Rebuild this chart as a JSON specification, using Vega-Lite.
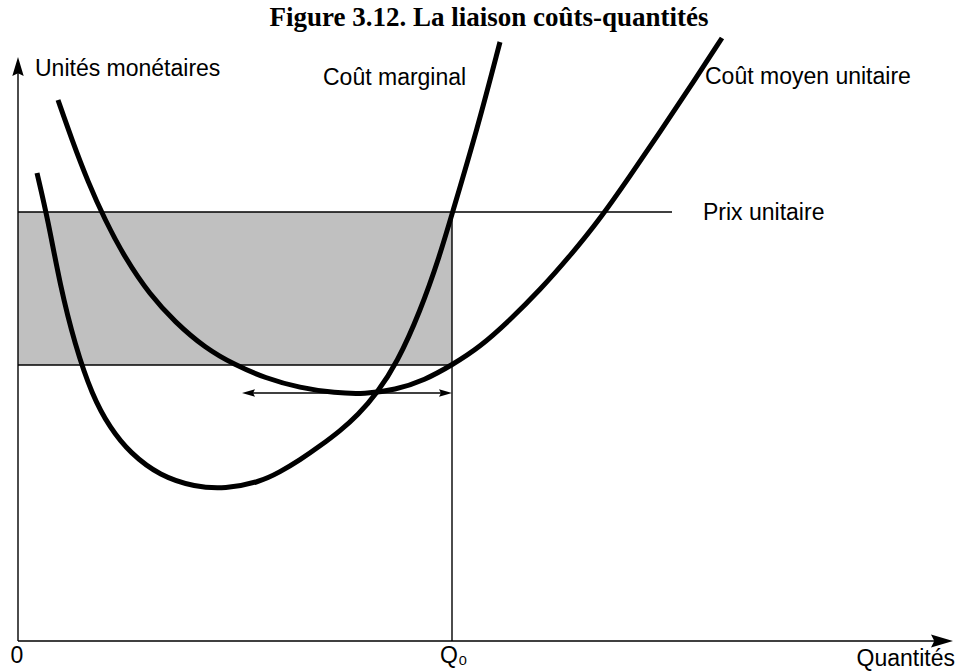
{
  "$schema": "https://vega.github.io/schema/vega-lite/v6.json",
  "width": 957,
  "height": 671,
  "padding": 0,
  "autosize": {"type": "none"},
  "background": "white",
  "config": {"view": {"stroke": null}},
  "datasets": {
    "mc": [
      {"q": 19, "c": 468}, {"q": 30, "c": 421}, {"q": 42, "c": 356}, {"q": 57, "c": 296},
      {"q": 74, "c": 246}, {"q": 92, "c": 213}, {"q": 112, "c": 188}, {"q": 142, "c": 165},
      {"q": 177, "c": 154}, {"q": 207, "c": 152}, {"q": 242, "c": 159}, {"q": 262, "c": 169},
      {"q": 282, "c": 181}, {"q": 302, "c": 195}, {"q": 322, "c": 210}, {"q": 340, "c": 226},
      {"q": 359, "c": 248}, {"q": 379, "c": 278}, {"q": 402, "c": 329}, {"q": 422, "c": 386},
      {"q": 434, "c": 427}, {"q": 459, "c": 511}, {"q": 482, "c": 599}
    ],
    "ac": [
      {"q": 40, "c": 541}, {"q": 54, "c": 501}, {"q": 70, "c": 459}, {"q": 87, "c": 421},
      {"q": 107, "c": 383}, {"q": 132, "c": 346}, {"q": 157, "c": 319}, {"q": 187, "c": 293},
      {"q": 217, "c": 276}, {"q": 247, "c": 263}, {"q": 282, "c": 253}, {"q": 317, "c": 248},
      {"q": 347, "c": 247}, {"q": 377, "c": 251}, {"q": 407, "c": 261}, {"q": 434, "c": 276},
      {"q": 462, "c": 294}, {"q": 492, "c": 321}, {"q": 522, "c": 351}, {"q": 552, "c": 385},
      {"q": 582, "c": 422}, {"q": 612, "c": 465}, {"q": 642, "c": 509}, {"q": 672, "c": 554},
      {"q": 704, "c": 603}
    ],
    "segments": [
      {"name": "axe y", "q": 0, "q2": 0, "c": 0, "c2": 575},
      {"name": "axe x", "q": 0, "q2": 920, "c": 0, "c2": 0},
      {"name": "prix", "q": 0, "q2": 654, "c": 429, "c2": 429},
      {"name": "Q0", "q": 434, "q2": 434, "c": 0, "c2": 429},
      {"name": "cout moyen Q0", "q": 0, "q2": 434, "c": 276, "c2": 276},
      {"name": "ecart", "q": 232, "q2": 426, "c": 248, "c2": 248}
    ],
    "zone": [{"q": 0, "q2": 434, "c": 276, "c2": 429}],
    "heads": [
      {"dir": "up", "q": 0, "c": 584},
      {"dir": "right", "q": 935, "c": 0},
      {"dir": "left-small", "q": 224, "c": 248},
      {"dir": "right-small", "q": 434, "c": 248}
    ],
    "labels": [
      {"label": "Unités monétaires", "q": 17, "c": 565},
      {"label": "Coût marginal", "q": 305, "c": 556},
      {"label": "Coût moyen unitaire", "q": 687, "c": 557},
      {"label": "Prix unitaire", "q": 685, "c": 421},
      {"label": "Q₀", "q": 422, "c": -22}
    ],
    "origin": [{"label": "0", "q": -1, "c": -22}],
    "xlabel": [{"label": "Quantités", "q": 937, "c": -25}],
    "title": [{"label": "Figure 3.12. La liaison coûts-quantités", "q": 471, "c": 615}]
  },
  "layer": [
    {
      "data": {"name": "zone"},
      "mark": {"type": "rect", "fill": "#c0c0c0", "stroke": null},
      "encoding": {
        "x": {"field": "q", "type": "quantitative", "scale": {"domain": [-18, 939], "nice": false, "zero": false}, "axis": null},
        "x2": {"field": "q2"},
        "y": {"field": "c", "type": "quantitative", "scale": {"domain": [-30, 641], "nice": false, "zero": false}, "axis": null},
        "y2": {"field": "c2"}
      }
    },
    {
      "data": {"name": "segments"},
      "mark": {"type": "rule", "color": "black", "strokeWidth": 1.4},
      "encoding": {
        "x": {"field": "q", "type": "quantitative", "scale": {"domain": [-18, 939], "nice": false, "zero": false}, "axis": null},
        "x2": {"field": "q2"},
        "y": {"field": "c", "type": "quantitative", "scale": {"domain": [-30, 641], "nice": false, "zero": false}, "axis": null},
        "y2": {"field": "c2"}
      }
    },
    {
      "data": {"name": "mc"},
      "mark": {"type": "line", "color": "black", "strokeWidth": 5, "interpolate": "basis", "strokeCap": "butt"},
      "encoding": {
        "x": {"field": "q", "type": "quantitative", "scale": {"domain": [-18, 939], "nice": false, "zero": false}, "axis": null},
        "y": {"field": "c", "type": "quantitative", "scale": {"domain": [-30, 641], "nice": false, "zero": false}, "axis": null}
      }
    },
    {
      "data": {"name": "ac"},
      "mark": {"type": "line", "color": "black", "strokeWidth": 5, "interpolate": "basis", "strokeCap": "butt"},
      "encoding": {
        "x": {"field": "q", "type": "quantitative", "scale": {"domain": [-18, 939], "nice": false, "zero": false}, "axis": null},
        "y": {"field": "c", "type": "quantitative", "scale": {"domain": [-30, 641], "nice": false, "zero": false}, "axis": null}
      }
    },
    {
      "data": {"name": "heads"},
      "transform": [{"filter": "datum.dir == 'up'"}],
      "mark": {"type": "point", "shape": "M0,0L0.3,1L0,0.85L-0.3,1Z", "filled": true, "color": "black", "opacity": 1, "size": 1444, "strokeWidth": 0},
      "encoding": {
        "x": {"field": "q", "type": "quantitative", "scale": {"domain": [-18, 939], "nice": false, "zero": false}, "axis": null},
        "y": {"field": "c", "type": "quantitative", "scale": {"domain": [-30, 641], "nice": false, "zero": false}, "axis": null}
      }
    },
    {
      "data": {"name": "heads"},
      "transform": [{"filter": "datum.dir == 'right'"}],
      "mark": {"type": "point", "shape": "M0,0L-1,0.3L-0.85,0L-1,-0.3Z", "filled": true, "color": "black", "opacity": 1, "size": 1936, "strokeWidth": 0},
      "encoding": {
        "x": {"field": "q", "type": "quantitative", "scale": {"domain": [-18, 939], "nice": false, "zero": false}, "axis": null},
        "y": {"field": "c", "type": "quantitative", "scale": {"domain": [-30, 641], "nice": false, "zero": false}, "axis": null}
      }
    },
    {
      "data": {"name": "heads"},
      "transform": [{"filter": "datum.dir == 'left-small'"}],
      "mark": {"type": "point", "shape": "M0,0L1,0.28L0.85,0L1,-0.28Z", "filled": true, "color": "black", "opacity": 1, "size": 676, "strokeWidth": 0},
      "encoding": {
        "x": {"field": "q", "type": "quantitative", "scale": {"domain": [-18, 939], "nice": false, "zero": false}, "axis": null},
        "y": {"field": "c", "type": "quantitative", "scale": {"domain": [-30, 641], "nice": false, "zero": false}, "axis": null}
      }
    },
    {
      "data": {"name": "heads"},
      "transform": [{"filter": "datum.dir == 'right-small'"}],
      "mark": {"type": "point", "shape": "M0,0L-1,0.28L-0.85,0L-1,-0.28Z", "filled": true, "color": "black", "opacity": 1, "size": 676, "strokeWidth": 0},
      "encoding": {
        "x": {"field": "q", "type": "quantitative", "scale": {"domain": [-18, 939], "nice": false, "zero": false}, "axis": null},
        "y": {"field": "c", "type": "quantitative", "scale": {"domain": [-30, 641], "nice": false, "zero": false}, "axis": null}
      }
    },
    {
      "data": {"name": "labels"},
      "mark": {"type": "text", "align": "left", "baseline": "alphabetic", "font": "Liberation Sans", "fontSize": 23, "color": "black"},
      "encoding": {
        "x": {"field": "q", "type": "quantitative", "scale": {"domain": [-18, 939], "nice": false, "zero": false}, "axis": null},
        "y": {"field": "c", "type": "quantitative", "scale": {"domain": [-30, 641], "nice": false, "zero": false}, "axis": null},
        "text": {"field": "label"}
      }
    },
    {
      "data": {"name": "origin"},
      "mark": {"type": "text", "align": "center", "baseline": "alphabetic", "font": "Liberation Sans", "fontSize": 23, "color": "black"},
      "encoding": {
        "x": {"field": "q", "type": "quantitative", "scale": {"domain": [-18, 939], "nice": false, "zero": false}, "axis": null},
        "y": {"field": "c", "type": "quantitative", "scale": {"domain": [-30, 641], "nice": false, "zero": false}, "axis": null},
        "text": {"field": "label"}
      }
    },
    {
      "data": {"name": "xlabel"},
      "mark": {"type": "text", "align": "right", "baseline": "alphabetic", "font": "Liberation Sans", "fontSize": 23, "color": "black"},
      "encoding": {
        "x": {"field": "q", "type": "quantitative", "scale": {"domain": [-18, 939], "nice": false, "zero": false}, "axis": null},
        "y": {"field": "c", "type": "quantitative", "scale": {"domain": [-30, 641], "nice": false, "zero": false}, "axis": null},
        "text": {"field": "label"}
      }
    },
    {
      "data": {"name": "title"},
      "mark": {"type": "text", "align": "center", "baseline": "alphabetic", "font": "Liberation Serif", "fontSize": 27, "fontWeight": "bold", "color": "black"},
      "encoding": {
        "x": {"field": "q", "type": "quantitative", "scale": {"domain": [-18, 939], "nice": false, "zero": false}, "axis": null},
        "y": {"field": "c", "type": "quantitative", "scale": {"domain": [-30, 641], "nice": false, "zero": false}, "axis": null},
        "text": {"field": "label"}
      }
    }
  ]
}
